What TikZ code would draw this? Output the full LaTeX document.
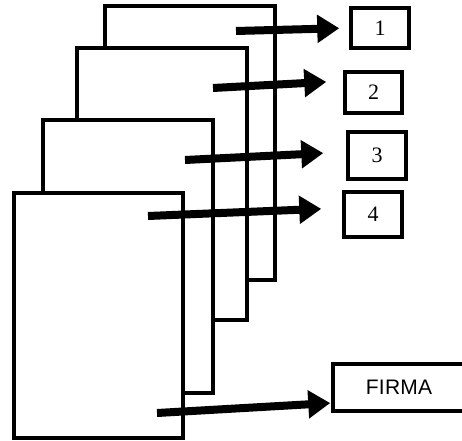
\documentclass[tikz,border=0pt]{standalone}
\usepackage{fontspec}
\setmainfont{Liberation Serif}
\newfontfamily\firmafont[LetterSpace=1]{Liberation Sans}
\usepackage{tikz}
\usetikzlibrary{arrows.meta, positioning}

\begin{document}
\begin{tikzpicture}[x=1bp,y=-1bp,>={Triangle[length=22bp,width=27bp]},line join=miter]
  \pgfsetlinewidth{4.5bp}
  \tikzset{
    sheet/.style={draw, fill=white, line width=4.5bp, inner sep=0pt},
    numbox/.style={draw, line width=3.5bp, inner sep=0pt, font=\fontsize{22bp}{22bp}\selectfont},
    flow/.style={->, line width=8bp, shorten >=10bp}
  }
  \useasboundingbox (0,0) rectangle (462,441);
%%
  % Sheet: 1 (back)
  \node [sheet, minimum width=170bp, minimum height=274bp] (s1) at (190,143) {};
  % Sheet: 2
  \node [sheet, minimum width=170bp, minimum height=272bp] (s2) at (162,184) {};
  % Sheet: 3
  \node [sheet, minimum width=170bp, minimum height=273bp] (s3) at (128,256.5) {};
  % Sheet: 4 (front)
  \node [sheet, minimum width=169bp, minimum height=245bp] (s4) at (98.5,315.5) {};
  % Box: 1
  \node [numbox, minimum width=58bp, minimum height=40bp] (b1) at (380,28) {1};
  % Box: 2
  \node [numbox, minimum width=57bp, minimum height=41bp] (b2) at (373.5,92.5) {2};
  % Box: 3
  \node [numbox, minimum width=58bp, minimum height=47bp] (b3) at (377,155.5) {3};
  % Box: 4
  \node [numbox, minimum width=58bp, minimum height=45bp] (b4) at (373,214.5) {4};
  % Box: firma
  \node [numbox, minimum width=132bp, minimum height=47bp,
         font=\firmafont\fontsize{21bp}{21bp}\selectfont] (bf) at (399,387.5) {FIRMA};
  % Tails
  \coordinate (t1) at (236,31);
  \coordinate (t2) at (213,88);
  \coordinate (t3) at (185,160);
  \coordinate (t4) at (148,216);
  \coordinate (tf) at (157,413);
  % Edge: sheet 1 -- box 1
  \draw [flow] (t1) -- (b1.west |- 0,28);
  % Edge: sheet 2 -- box 2
  \draw [flow, shorten >=17bp] (t2) -- (b2.west |- 0,81);
  % Edge: sheet 3 -- box 3
  \draw [flow, shorten >=23bp] (t3) -- (b3.west |- 0,152);
  % Edge: sheet 4 -- box 4
  \draw [flow, shorten >=21bp] (t4) -- (b4.west |- 0,208);
  % Edge: sheet 4 -- firma
  \draw [flow, shorten >=1bp] (tf) -- (bf.west |- 0,403);
%
\end{tikzpicture}
\end{document}
